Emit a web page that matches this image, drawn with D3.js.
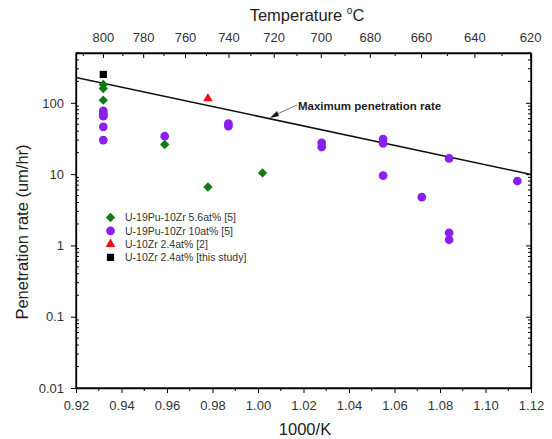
<!DOCTYPE html>
<html>
<head>
<meta charset="utf-8">
<script src="https://cdn.jsdelivr.net/npm/d3@7"></script>
<style>
  body { margin: 0; background: #fff; }
  text { font-family: "Liberation Sans", Arial, sans-serif; }
</style>
</head>
<body>
<svg id="chart" width="552" height="439"></svg>
<script>
// data
var xTicks = [0.92, 0.94, 0.96, 0.98, 1.00, 1.02, 1.04, 1.06, 1.08, 1.10, 1.12];
var yTicks = [0.01, 0.1, 1, 10, 100];
var tempTicks = [800, 780, 760, 740, 720, 700, 680, 660, 640, 620];
var tempMinor = [810, 790, 770, 750, 730, 710, 690, 670, 650, 630];

var greenX = [0.932, 0.932, 0.932, 0.932, 0.959, 0.978, 1.002];
var greenY = [181, 159, 109, 71, 26, 6.6, 10.4];
var purpleX = [0.932, 0.932, 0.932, 0.932, 0.932, 0.959, 0.987, 0.987, 1.028, 1.028, 1.055, 1.055, 1.055, 1.072, 1.084, 1.084, 1.084, 1.114];
var purpleY = [77, 69, 65, 46, 30, 34, 51, 47, 27.5, 24, 31, 27, 9.5, 4.75, 16.6, 1.5, 1.2, 8];
var redX = [0.978];
var redY = [115];
var blackX = [0.932];
var blackY = [250];
var maxX = [0.92, 1.12];
var maxY = [227, 9.9];

var legendNames = ["U-19Pu-10Zr 5.6at% [5]", "U-19Pu-10Zr 10at% [5]", "U-10Zr 2.4at% [2]", "U-10Zr 2.4at% [this study]"];

var pL = 76, pR = 531, pT = 53, pB = 388;
var svg = d3.select("#chart");

var x = d3.scaleLinear().domain([0.92, 1.12]).range([pL, pR]);
var y = d3.scaleLog().domain([0.01, 500]).range([pB, pT]);
var tx = function(t){ return x(1000 / (t + 273.15)); };

var green = "#117a11", purple = "#8a1ff0", red = "#ee1111";
var tickCol = "#333";

// minor ticks
var xMinor = d3.range(0.93, 1.12, 0.02);
var yMinor = [];
[0.01, 0.1, 1, 10, 100].forEach(function(d){
	for( var k = 2 ; k <= 9 ; k++ ){
		if( d * k <= 500 ) yMinor.push(d * k);
	}
});

// bottom axis: ticks point out
var bottomAxis = d3.axisBottom(x).tickValues(xTicks).tickFormat(d3.format(".2f")).tickSizeInner(5).tickSizeOuter(0).tickPadding(8);
var bx = svg.append("g").attr("transform", "translate(0," + pB + ")").call(bottomAxis);
svg.append("g").selectAll("line").data(xMinor).enter().append("line")
	.attr("x1", function(d){ return x(d); }).attr("x2", function(d){ return x(d); })
	.attr("y1", pB).attr("y2", pB + 3).attr("stroke", "#000");

// top axis in temperature, ticks point in
var topAxis = d3.axisTop(x).tickValues(tempTicks.map(function(t){ return 1000 / (t + 273.15); }))
	.tickFormat(function(d, i){ return tempTicks[i]; }).tickSizeInner(-5).tickSizeOuter(0).tickPadding(11);
var ttop = svg.append("g").attr("transform", "translate(0," + pT + ")").call(topAxis);
svg.append("g").selectAll("line").data(tempMinor).enter().append("line")
	.attr("x1", function(d){ return tx(d); }).attr("x2", function(d){ return tx(d); })
	.attr("y1", pT).attr("y2", pT + 3).attr("stroke", "#000");

// left axis: majors out, minors in
var leftAxis = d3.axisLeft(y).tickValues(yTicks).tickFormat(function(d){ return String(d); }).tickSizeInner(5).tickSizeOuter(0).tickPadding(7);
var ly = svg.append("g").attr("transform", "translate(" + pL + ",0)").call(leftAxis);
svg.append("g").selectAll("line").data(yMinor).enter().append("line")
	.attr("x1", pL).attr("x2", pL + 3)
	.attr("y1", function(d){ return y(d); }).attr("y2", function(d){ return y(d); }).attr("stroke", "#000");

// right axis: ticks in
var rightAxis = d3.axisRight(y).tickValues(yTicks).tickFormat("").tickSizeInner(-5).tickSizeOuter(0);
svg.append("g").attr("transform", "translate(" + pR + ",0)").call(rightAxis);
svg.append("g").selectAll("line").data(yMinor).enter().append("line")
	.attr("x1", pR).attr("x2", pR - 3)
	.attr("y1", function(d){ return y(d); }).attr("y2", function(d){ return y(d); }).attr("stroke", "#000");

[bx, ttop, ly].forEach(function(a){
	a.selectAll("text").attr("font-size", 13).attr("fill", tickCol).attr("font-family", "Liberation Sans, Arial, sans-serif");
});
svg.selectAll(".domain").attr("stroke", "#000").attr("stroke-width", 1.3);

// frame
svg.append("rect").attr("x", pL).attr("y", pT).attr("width", pR - pL).attr("height", pB - pT)
	.attr("fill", "none").attr("stroke", "#000").attr("stroke-width", 1.3);

// axis titles
svg.append("text").attr("x", 305).attr("y", 435).attr("text-anchor", "middle").attr("font-size", 16.5).attr("fill", "#222").text("1000/K");
var tt = svg.append("text").attr("x", 307).attr("y", 21).attr("text-anchor", "middle").attr("font-size", 16.5).attr("fill", "#222");
tt.append("tspan").text("Temperature ");
tt.append("tspan").attr("font-size", 10).attr("dy", -7).text("o");
tt.append("tspan").attr("dy", 7).text("C");
svg.append("text").attr("transform", "translate(28,232) rotate(-90)").attr("text-anchor", "middle")
	.attr("font-size", 16.5).attr("fill", "#222").text("Penetration rate (um/hr)");

// maximum penetration line
var line = d3.line().x(function(d){ return x(d[0]); }).y(function(d){ return y(d[1]); });
svg.append("path").datum(d3.zip(maxX, maxY)).attr("d", line)
	.attr("fill", "none").attr("stroke", "#111").attr("stroke-width", 1.5);

// annotation
svg.append("line").attr("x1", 297).attr("y1", 105).attr("x2", 275).attr("y2", 115).attr("stroke", "#555").attr("stroke-width", 0.8);
svg.append("path").attr("d", "M270,118 L277,111 L279,116 Z").attr("fill", "#111");
svg.append("text").attr("x", 298).attr("y", 110).attr("font-size", 11.5).attr("font-weight", "bold").attr("fill", "#222")
	.text("Maximum penetration rate");

// markers
var diamond = d3.symbol().type(d3.symbolSquare).size(44);
var circle = d3.symbol().type(d3.symbolCircle).size(60);
var tri = d3.symbol().type(d3.symbolTriangle).size(40);
var square = d3.symbol().type(d3.symbolSquare).size(52);

var drawSeries = function( xs, ys, sym, col, rot ){
	svg.append("g").selectAll("path").data(d3.zip(xs, ys)).enter().append("path")
		.attr("d", sym)
		.attr("transform", function(d){ return "translate(" + x(d[0]) + "," + y(d[1]) + ") rotate(" + (rot || 0) + ")"; })
		.attr("fill", col);
};
drawSeries(greenX, greenY, diamond, green, 45);
drawSeries(purpleX, purpleY, circle, purple);
drawSeries(redX, redY, tri, red);
drawSeries(blackX, blackY, square, "#000");

// legend
var legSyms = [diamond, circle, tri, square];
var legCols = [green, purple, red, "#000"];
var legRot = [45, 0, 0, 0];
var leg = svg.append("g");
legendNames.forEach(function(name, i){
	var ly0 = 217.5 + i * 13.3;
	leg.append("path").attr("d", legSyms[i]).attr("transform", "translate(110.5," + ly0 + ") rotate(" + legRot[i] + ")").attr("fill", legCols[i]);
	leg.append("text").attr("x", 125).attr("y", ly0 + 3.8).attr("font-size", 10.5).attr("fill", "#333").text(name);
});
</script>
</body>
</html>
